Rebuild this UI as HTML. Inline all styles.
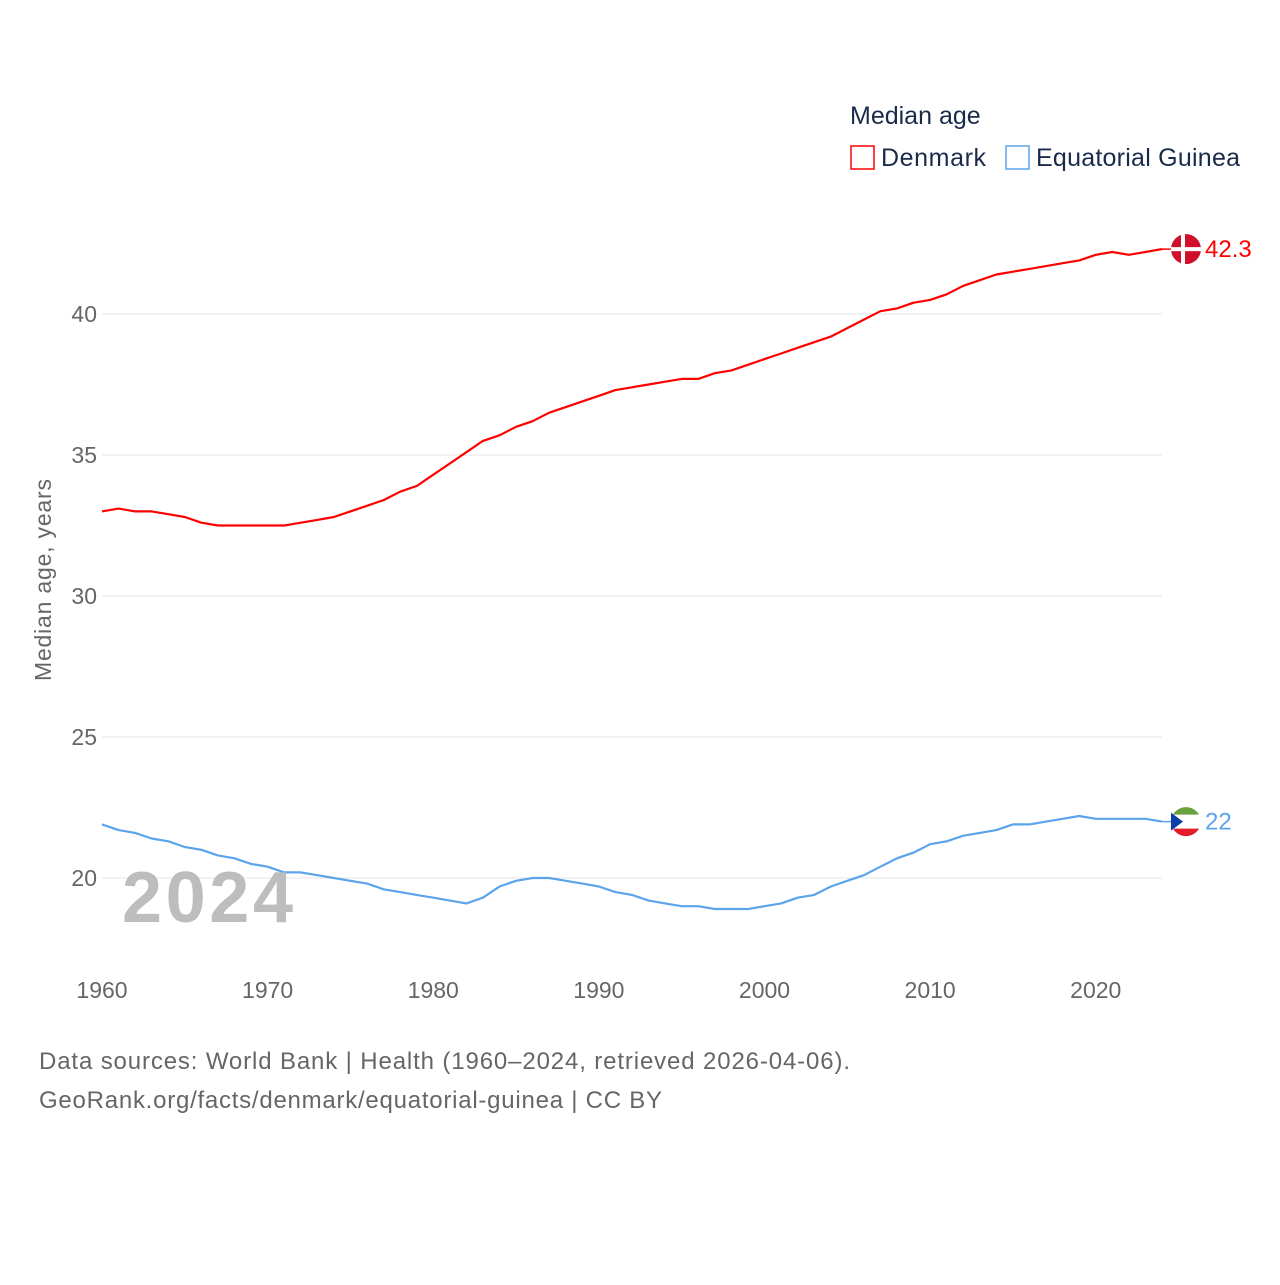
<!DOCTYPE html>
<html><head><meta charset="utf-8"><style>
body{margin:0;background:#fff;font-family:"Liberation Sans",sans-serif;}
svg text{font-family:"Liberation Sans",sans-serif;}
</style></head><body>
<svg id="chart" width="1280" height="1280" xmlns="http://www.w3.org/2000/svg">
<rect width="1280" height="1280" fill="#fff"/>
<g id="grid"></g><g id="xt"></g><g id="lines"></g>
<text x="850" y="124" font-size="25" fill="#1a2b4a">Median age</text>
<g><rect x="851" y="146" width="23" height="23" fill="none" stroke="#ff0000" stroke-width="1.5"/><text x="881" y="166" font-size="25" fill="#1a2b4a" textLength="105">Denmark</text></g>
<g><rect x="1006" y="146" width="23" height="23" fill="none" stroke="#5ba4ec" stroke-width="1.5"/><text x="1036" y="166" font-size="25" fill="#1a2b4a" textLength="204">Equatorial Guinea</text></g>
<text transform="translate(51,580) rotate(-90)" text-anchor="middle" font-size="23" fill="#666" textLength="202">Median age, years</text>
<text x="122" y="922" font-size="72" font-weight="bold" fill="#bdbdbd" textLength="171">2024</text>
<text x="39" y="1069" font-size="24" fill="#666" textLength="811">Data sources: World Bank | Health (1960–2024, retrieved 2026-04-06).</text>
<text x="39" y="1108" font-size="24" fill="#666" textLength="623">GeoRank.org/facts/denmark/equatorial-guinea | CC BY</text>
</svg>
<script>
const years=[];for(let y=1960;y<=2024;y++)years.push(y);
const denmark=[33.0,33.1,33.0,33.0,32.9,32.8,32.6,32.5,32.5,32.5,32.5,32.5,32.6,32.7,32.8,33.0,33.2,33.4,33.7,33.9,34.3,34.7,35.1,35.5,35.7,36.0,36.2,36.5,36.7,36.9,37.1,37.3,37.4,37.5,37.6,37.7,37.7,37.9,38.0,38.2,38.4,38.6,38.8,39.0,39.2,39.5,39.8,40.1,40.2,40.4,40.5,40.7,41.0,41.2,41.4,41.5,41.6,41.7,41.8,41.9,42.1,42.2,42.1,42.2,42.3];
const eqGuinea=[21.9,21.7,21.6,21.4,21.3,21.1,21.0,20.8,20.7,20.5,20.4,20.2,20.2,20.1,20.0,19.9,19.8,19.6,19.5,19.4,19.3,19.2,19.1,19.3,19.7,19.9,20.0,20.0,19.9,19.8,19.7,19.5,19.4,19.2,19.1,19.0,19.0,18.9,18.9,18.9,19.0,19.1,19.3,19.4,19.7,19.9,20.1,20.4,20.7,20.9,21.2,21.3,21.5,21.6,21.7,21.9,21.9,22.0,22.1,22.2,22.1,22.1,22.1,22.1,22.0];
const yTicks=[20,25,30,35,40];
const xTicks=[1960,1970,1980,1990,2000,2010,2020];
const NS="http://www.w3.org/2000/svg";
const X=v=>102+(v-1960)*(1162-102)/64;
const Y=v=>878-(v-20)*28.2;
function mk(t,a,p){const e=document.createElementNS(NS,t);for(const k in a)e.setAttribute(k,a[k]);p.appendChild(e);return e;}
const g=document.getElementById('grid');
yTicks.forEach(t=>{
const l=mk('line',{x1:102,x2:1162,y1:Y(t),y2:Y(t),stroke:'#e4e4e4','stroke-width':1},g);


const tx=mk('text',{x:97,y:Y(t)+8,'text-anchor':'end','font-size':23,fill:'#666'},g);tx.textContent=t;


});
const xg=document.getElementById('xt');
xTicks.forEach(t=>{
const tx=mk('text',{x:X(t),y:998,'text-anchor':'middle','font-size':23,fill:'#666'},xg);tx.textContent=t;


});
const lg=document.getElementById('lines');
function series(vals,color,name,label,flag){
const d=vals.map((v,i)=>(i?'L':'M')+X(years[i]).toFixed(1)+','+Y(v).toFixed(1)).join('');
const p=mk('path',{d:d,fill:'none',stroke:color,'stroke-width':2.2,'stroke-linejoin':'round'},lg);


const lx=X(2024),ly=Y(vals[vals.length-1]);
mk('line',{x1:lx,x2:lx+10,y1:ly,y2:ly,stroke:color,'stroke-width':1.5},lg);
const c=mk('g',{},lg);


flag(c,lx+24,ly);
const t=mk('text',{x:lx+43,y:ly+8,'font-size':24,fill:color},lg);t.textContent=label;


}
series(denmark,'#ff0000','denmark','42.3',(c,cx,cy)=>{
mk('circle',{cx:cx,cy:cy,r:15,fill:'#d0102a'},c);
mk('rect',{x:cx-15,y:cy-2,width:30,height:4,fill:'#fff'},c);
mk('rect',{x:cx-5,y:cy-15,width:4,height:30,fill:'#fff'},c);
});
series(eqGuinea,'#5ba4ec','equatorial-guinea','22',(c,cx,cy)=>{
mk('circle',{cx:cx,cy:cy,r:15,fill:'#fff'},c);
mk('path',{d:`M${cx-13},${cy-7}A15,15 0 0 1 ${cx+13},${cy-7}Z`,fill:'#6aa13f'},c);
mk('path',{d:`M${cx-13},${cy+7}A15,15 0 0 0 ${cx+13},${cy+7}Z`,fill:'#e21c2a'},c);
mk('path',{d:`M${cx-15},${cy-9}L${cx-3},${cy}L${cx-15},${cy+9}Z`,fill:'#0a3fa8'},c);
});
</script>
</body></html>
